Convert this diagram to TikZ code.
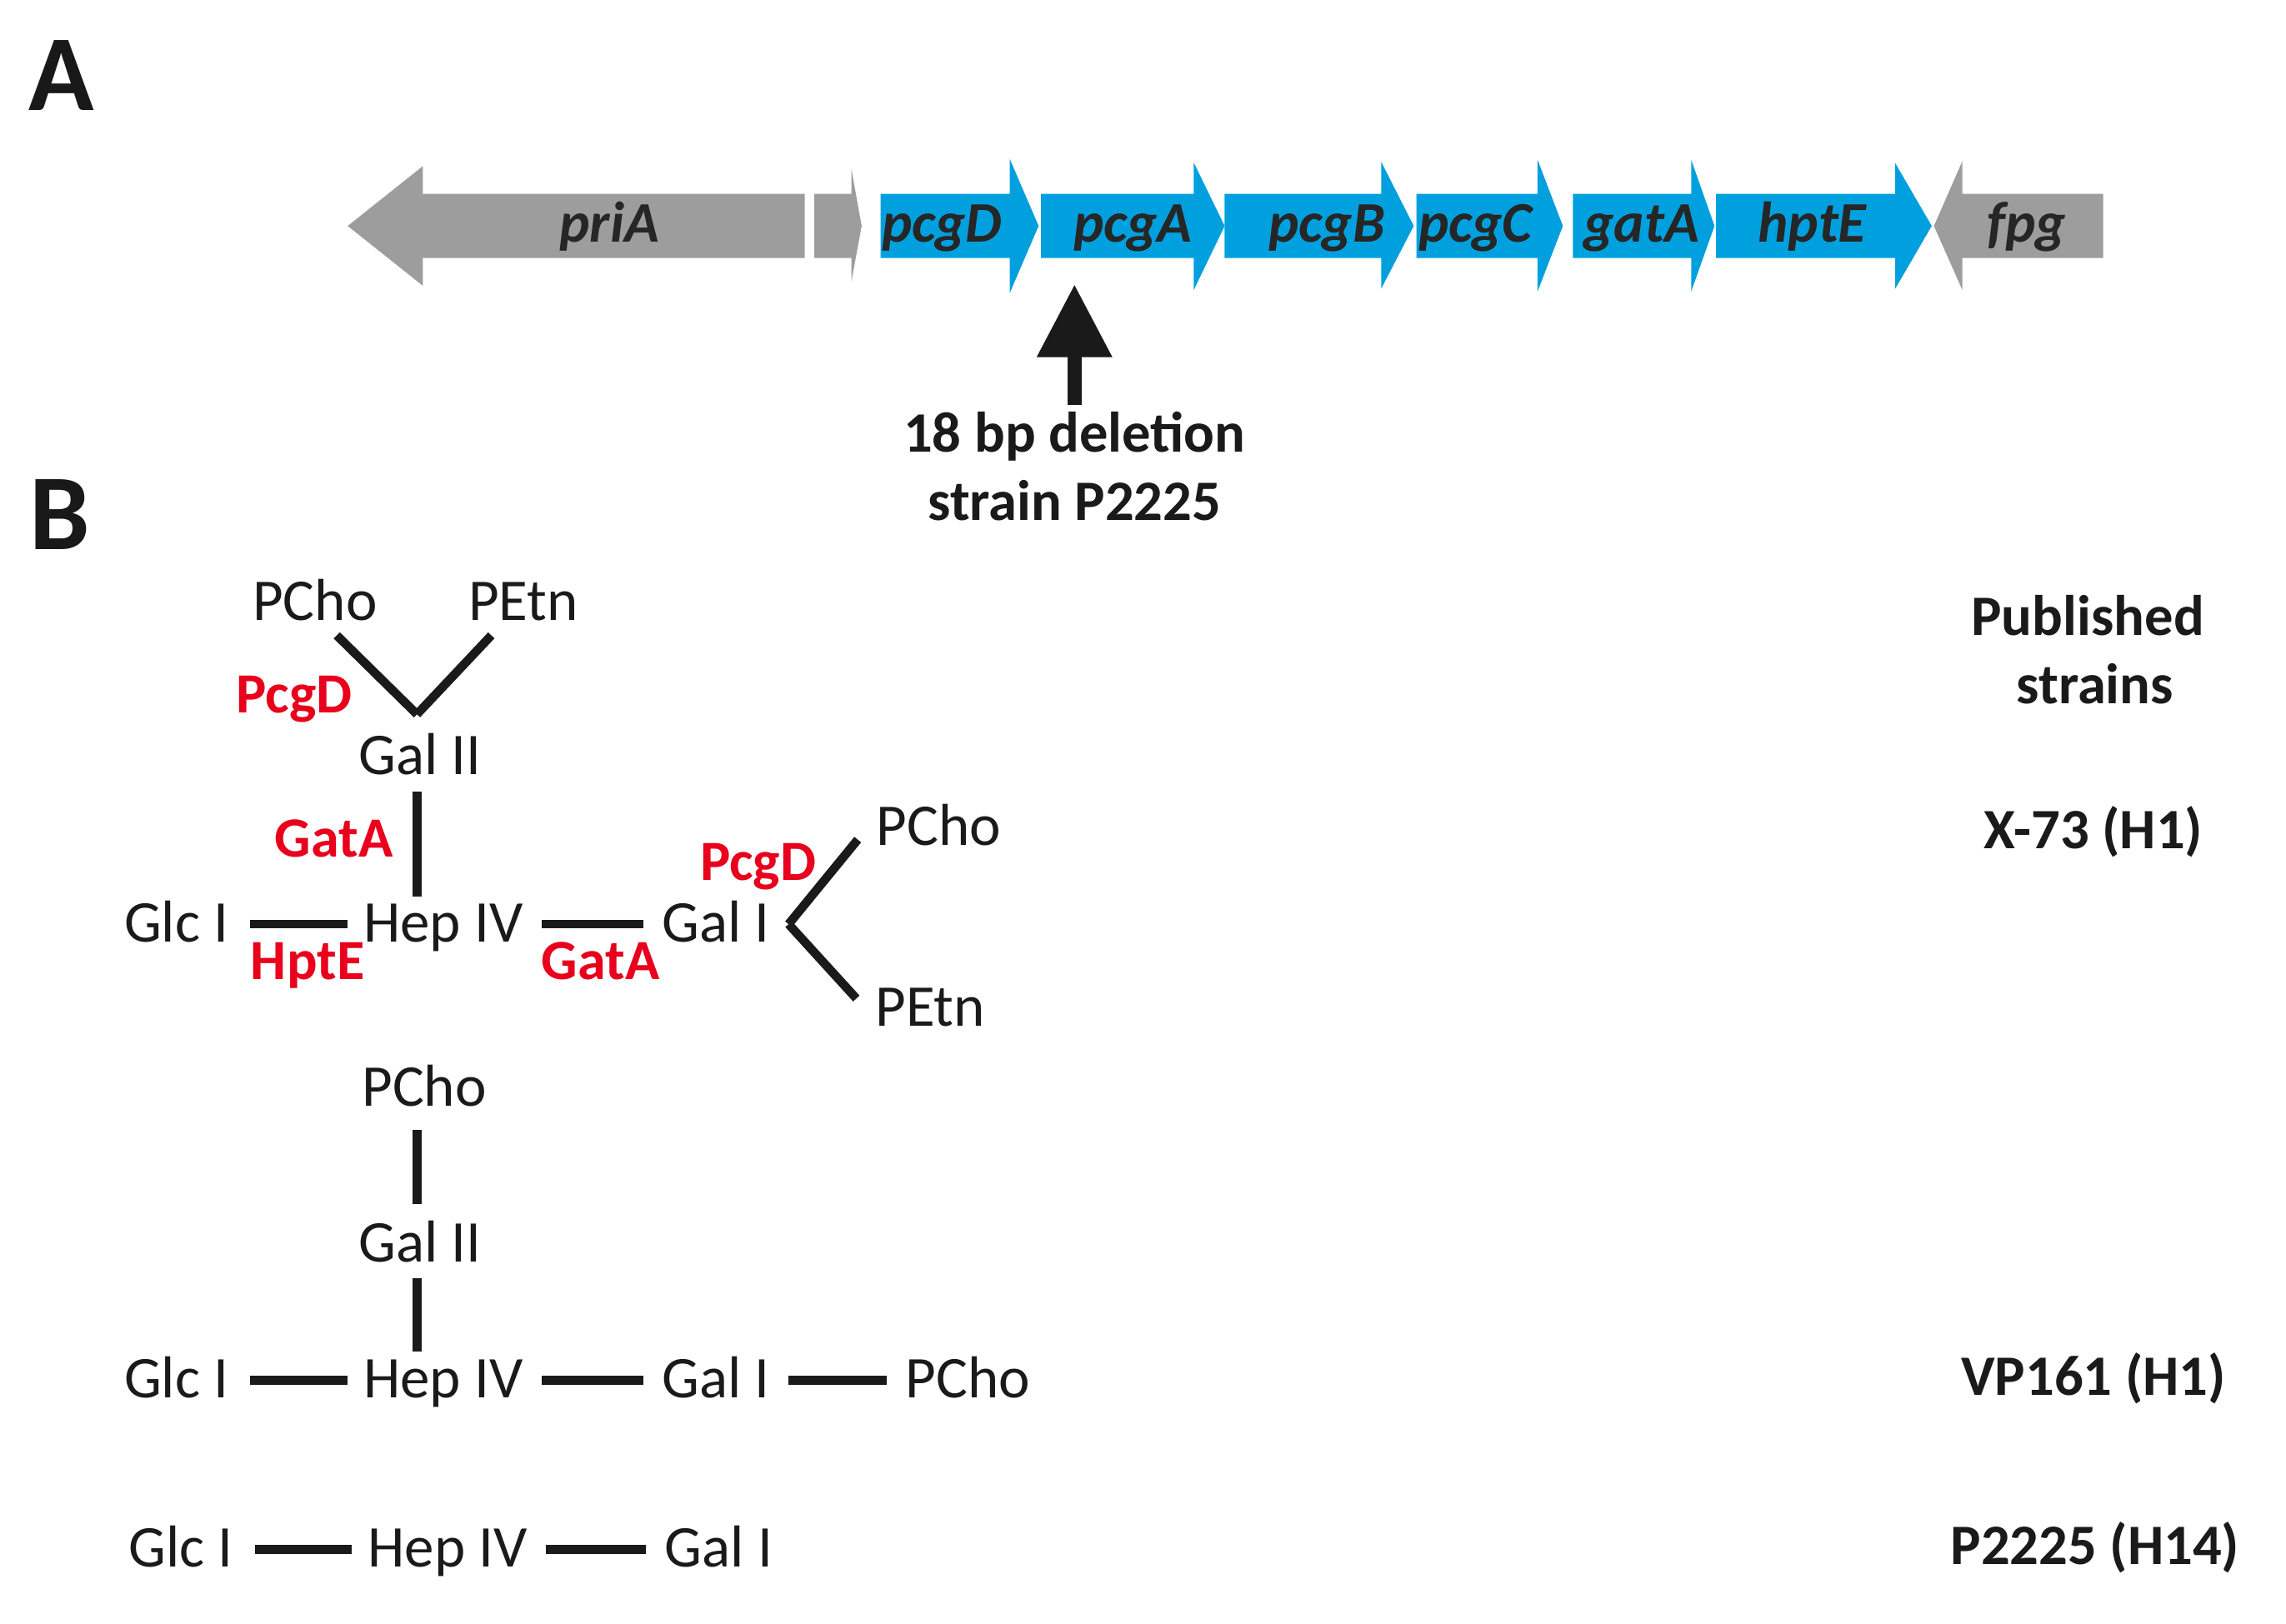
\documentclass[tikz,border=0pt]{standalone}
\usepackage{fontspec}
\setmainfont{Carlito}
\usetikzlibrary{arrows.meta}
\definecolor{genegray}{HTML}{9D9D9D}
\definecolor{geneblue}{HTML}{00A0DE}
\definecolor{enzred}{HTML}{E8001C}
\definecolor{inkdark}{HTML}{1A1A1A}
\tikzset{
    sugar/.style={anchor=base, font=\fontsize{20.3}{20.3}\selectfont, text=inkdark, inner xsep=6.3pt, inner ysep=2pt, text height=15pt, text depth=3pt},
    bond/.style={inkdark, line width=3pt},
    enzyme/.style={anchor=base, font=\fontsize{19.5}{19.5}\selectfont\bfseries, text=enzred, inner sep=0pt},
    strainlabel/.style={anchor=base, font=\fontsize{19.6}{19.6}\selectfont\bfseries, text=inkdark, inner ysep=2pt, inner xsep=0pt, text height=14pt, text depth=3pt},
    genelabel/.style={anchor=base, font=\fontsize{19.7}{19.7}\selectfont\bfseries\itshape, text=black!85, inner sep=0pt},
    panel/.style={anchor=base, font=\fontsize{37}{37}\selectfont\bfseries, text=black!90, inner sep=0pt}
}
\begin{document}
\begin{tikzpicture}[x=0.5pt, y=-0.5pt]
    \useasboundingbox (0,0) rectangle (1568,1114);

    % Panel letters
    \node[panel] (panelA) at (42,76) {A};
    \node[panel] (panelB) at (41,377) {B};

    % Gene arrows, grey ones first
    \fill[genegray] (238.5,155) -- (290,114) -- (290,133) -- (552,133) -- (552,177) -- (290,177) -- (290,196) -- cycle;
    \fill[genegray] (558.6,133) -- (584,133) -- (584,116) -- (591,155) -- (584,193) -- (584,177) -- (558.6,177) -- cycle;
    \fill[genegray] (1326.5,155) -- (1346,110.5) -- (1346,133) -- (1442.6,133) -- (1442.6,177) -- (1346,177) -- (1346,199) -- cycle;
    \foreach \xa/\xb/\xc/\ya/\yb in {604/692.6/712.4/109/201, 714/818.8/840/111.5/199, 840/947.4/969.7/111/198, 971.5/1054.6/1072/109.6/200, 1078.9/1160/1176/109.6/200, 1177/1300/1325/112/198} {
        \fill[geneblue] (\xa,133) -- (\xb,133) -- (\xb,\ya) -- (\xc,155) -- (\xb,\yb) -- (\xb,177) -- (\xa,177) -- cycle;
    }
    \foreach \xt/\gname in {418/priA, 646/pcgD, 777/pcgA, 910/pcgB, 1012/pcgC, 1126/gatA, 1243/hptE, 1390/fpg} {
        \node[genelabel] (\gname) at (\xt,166) {\gname};
    }

    % Deletion site
    \node[strainlabel] (deletion) at (737,310) {18 bp deletion};
    \node[strainlabel] (strainP) at (737,357) {strain P2225};
    \coordinate (deltip) at (737,195);
    \draw[inkdark, line width=5pt, -{Triangle[length=25pt, width=24.5pt]}] (deletion.north) -- (deltip);

    % First structure
    \node[sugar] (pchoA) at (216,425.5) {PCho};
    \node[sugar] (petnA) at (359,425.5) {PEtn};
    \node[sugar] (galiiA) at (288,531.5) {Gal II};
    \node[sugar] (glcA) at (121,646) {Glc I};
    \node[sugar] (hepA) at (304,646) {Hep IV};
    \node[sugar] (galiA) at (491,646) {Gal I};
    \node[sugar] (pchoB) at (644,580) {PCho};
    \node[sugar] (petnB) at (638,704) {PEtn};
    \coordinate (forkA) at (286,490);
    \coordinate (stemA) at (286,543);
    \coordinate (stemB) at (286,615);
    \draw[bond] ([xshift=7.5pt]pchoA.south) -- (forkA);
    \draw[bond] ([xshift=-11pt]petnA.south) -- (forkA);
    \draw[bond] (stemA) -- (stemB);
    \draw[bond, shorten <=1pt, shorten >=-1pt] (glcA) -- (hepA);
    \draw[bond] (hepA) -- (galiA);
    \draw[bond] (galiA.east) -- ([yshift=-4pt]pchoB.west);
    \draw[bond] (galiA.east) -- ([yshift=3.5pt]petnB.west);
    \node[enzyme] (pcgdA) at (202,489) {PcgD};
    \node[enzyme] (gataA) at (229,588) {GatA};
    \node[enzyme] (hpteA) at (211,672) {HptE};
    \node[enzyme] (gataB) at (412,672) {GatA};
    \node[enzyme] (pcgdB) at (520,604) {PcgD};

    % Second structure
    \node[sugar] (pchoC) at (291,759) {PCho};
    \node[sugar] (galiiB) at (288,866) {Gal II};
    \node[sugar] (glcB) at (121,959) {Glc I};
    \node[sugar] (hepB) at (304,959) {Hep IV};
    \node[sugar] (galiB) at (491,959) {Gal I};
    \node[sugar] (pchoD) at (664,959) {PCho};
    \coordinate (stemC) at (286,826);
    \coordinate (stemD) at (286,775);
    \coordinate (stemE) at (286,877);
    \coordinate (stemF) at (286,927);
    \draw[bond] (stemD) -- (stemC);
    \draw[bond] (stemE) -- (stemF);
    \draw[bond, shorten <=1pt, shorten >=-1pt] (glcB) -- (hepB);
    \draw[bond] (hepB) -- (galiB);
    \draw[bond] (galiB) -- (pchoD);

    % Third structure
    \node[sugar] (glcC) at (124,1075) {Glc I};
    \node[sugar] (hepC) at (307,1075) {Hep IV};
    \node[sugar] (galiC) at (493,1075) {Gal I};
    \draw[bond, shorten <=1pt, shorten >=-1pt] (glcC) -- (hepC);
    \draw[bond] (hepC) -- (galiC);

    % Strain names
    \node[strainlabel] (published) at (1432,436) {Published};
    \node[strainlabel] (strains) at (1437,483) {strains};
    \node[strainlabel] (strainX) at (1436,582) {X-73 (H1)};
    \node[strainlabel] (strainV) at (1436,957) {VP161 (H1)};
    \node[strainlabel] (strainPb) at (1437,1073) {P2225 (H14)};
\end{tikzpicture}
\end{document}
